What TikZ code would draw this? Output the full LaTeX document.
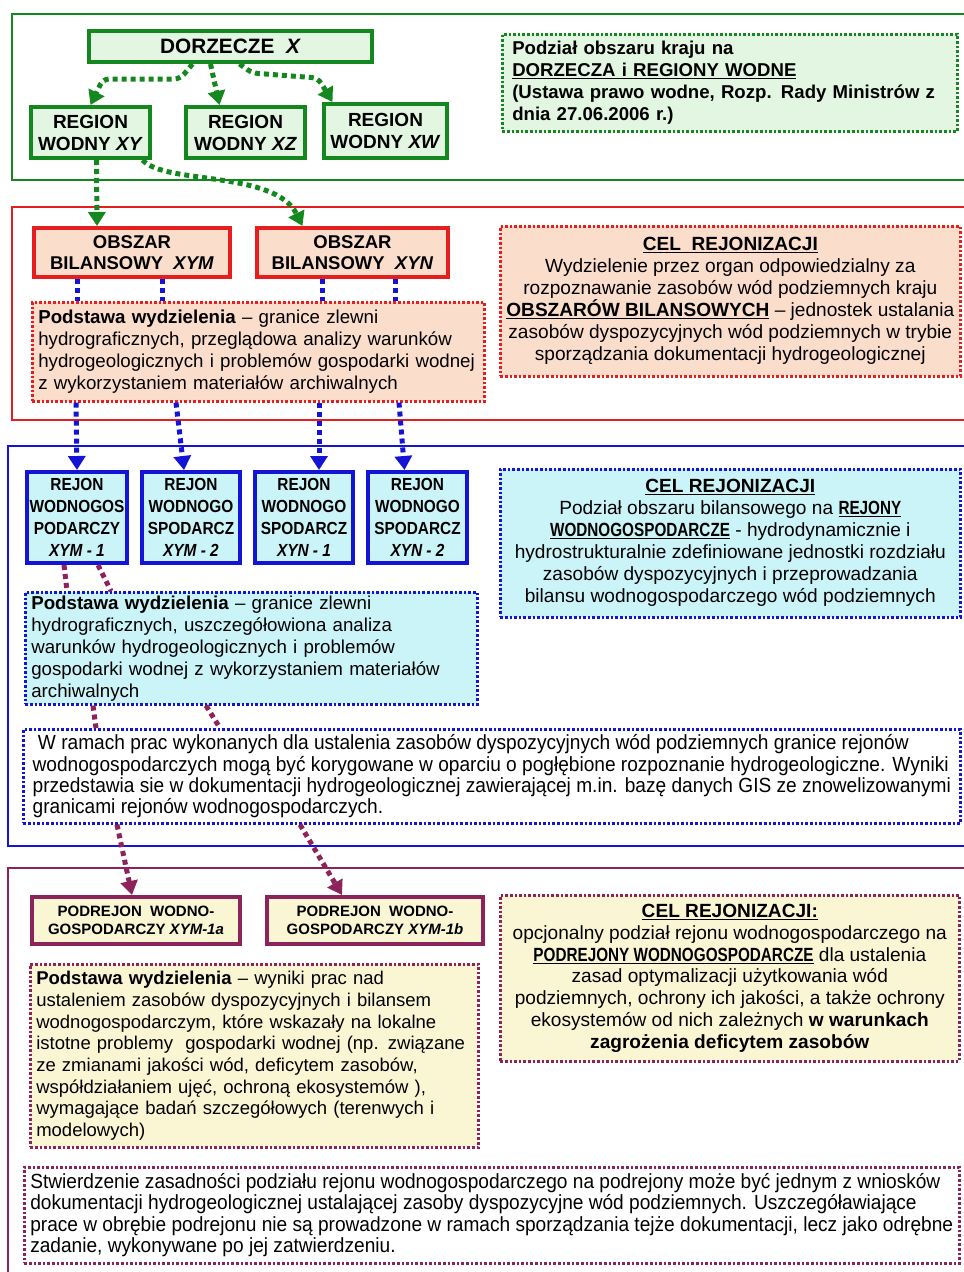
\documentclass[tikz,border=0pt]{standalone}
\usepackage{fontspec}
\setmainfont{Liberation Sans}
\newfontfamily\narrowfont[FakeStretch=0.932]{Liberation Sans}
\newfontfamily\condfont[FakeStretch=0.88]{Liberation Sans}
\newfontfamily\bcondfont[FakeStretch=0.8]{Liberation Sans}
\usetikzlibrary{arrows.meta}
\definecolor{gline}{RGB}{20,135,30}
\definecolor{gfill}{RGB}{226,246,226}
\definecolor{rline}{RGB}{230,30,30}
\definecolor{rfill}{RGB}{251,221,204}
\definecolor{bline}{RGB}{20,20,215}
\definecolor{bfill}{RGB}{202,244,248}
\definecolor{pline}{RGB}{140,35,90}
\definecolor{pfill}{RGB}{250,246,212}
\tikzset{
  tbox/.style={draw, line width=4pt, inner sep=1pt, align=center, anchor=north west},
  dbox/.style={draw, line width=2.6pt, dash pattern=on 2.6pt off 2pt, anchor=north west, inner xsep=6pt, inner ysep=2pt},
  framebox/.style={line width=2pt},
  conn/.style={line width=5pt, dash pattern=on 5pt off 4pt},
  tip/.style={-{Triangle[length=14pt,width=17pt]}},
  body/.style={font=\fontsize{18.7}{22}\selectfont},
  celbody/.style={font=\fontsize{19.1}{22}\selectfont},
}
\newcommand{\ulb}[1]{\underline{\bcondfont\bfseries #1}}
\begin{document}
\begin{tikzpicture}[x=1pt,y=-1pt]
\useasboundingbox (0,0) rectangle (964,1272);
% section frames
\draw[framebox, gline] (980,14) -- (12,14) -- (12,180) -- (980,180);
\draw[framebox, rline] (980,207) -- (12,207) -- (12,420) -- (980,420);
\draw[framebox, bline] (980,446) -- (8,446) -- (8,846) -- (980,846);
\draw[framebox, pline, line width=2.6pt] (980,868) -- (8,868) -- (8,1290);

% ---------- green ----------
\node[tbox, draw=gline, fill=gfill, minimum width=283pt, minimum height=31pt, font=\bfseries\fontsize{20.8}{22}\selectfont] (dor) at (87,29) {DORZECZE\ \ \textit{X}};
\node[tbox, draw=gline, fill=gfill, minimum width=119pt, minimum height=51pt, font=\bfseries\fontsize{19}{22}\selectfont] (xy) at (29,105) {REGION\\WODNY \textit{XY}};
\node[tbox, draw=gline, fill=gfill, minimum width=119pt, minimum height=51pt, font=\bfseries\fontsize{19}{22}\selectfont] (xz) at (184,105) {REGION\\WODNY \textit{XZ}};
\node[tbox, draw=gline, fill=gfill, minimum width=123pt, minimum height=54pt, font=\bfseries\fontsize{19}{22}\selectfont] (xw) at (322,102) {REGION\\WODNY \textit{XW}};
\node[dbox, draw=gline, fill=gfill, minimum width=455pt, minimum height=97pt, text width=435pt, align=left, inner xsep=10pt, font=\bfseries\fontsize{18.6}{22}\selectfont] (ginfo) at (501,33)
 {Podział obszaru kraju na\\\underline{DORZECZA i REGIONY WODNE}\\(Ustawa prawo wodne, Rozp. Rady Ministrów z\\dnia 27.06.2006 r.)};

% ---------- red ----------
\node[tbox, draw=rline, fill=rfill, minimum width=196pt, minimum height=49pt, font=\bfseries\fontsize{18.5}{21}\selectfont] (xym) at (32,226) {OBSZAR\\BILANSOWY\ \ \textit{XYM}};
\node[tbox, draw=rline, fill=rfill, minimum width=191pt, minimum height=49pt, font=\bfseries\fontsize{18.5}{21}\selectfont] (xyn) at (255,226) {OBSZAR\\BILANSOWY\ \ \textit{XYN}};
\node[dbox, draw=rline, fill=rfill, minimum width=452pt, minimum height=99pt, text width=440pt, align=left, body] (rpod) at (31,301)
 {\textbf{Podstawa wydzielenia} – granice zlewni\\hydrograficznych, przeglądowa analizy warunków\\hydrogeologicznych i problemów gospodarki wodnej\\z wykorzystaniem materiałów archiwalnych};
\node[dbox, draw=rline, fill=rfill, minimum width=460pt, minimum height=150pt, inner xsep=2pt, align=center, celbody] (rcel) at (499,225)
 {\underline{\textbf{CEL\ \ REJONIZACJI}}\\Wydzielenie przez organ odpowiedzialny za\\rozpoznawanie zasobów wód podziemnych kraju\\\underline{\textbf{OBSZARÓW BILANSOWYCH}} – jednostek ustalania\\zasobów dyspozycyjnych wód podziemnych w trybie\\sporządzania dokumentacji hydrogeologicznej};

% ---------- blue ----------
\node[tbox, draw=bline, fill=bfill, minimum width=100pt, minimum height=91pt, font=\condfont\bfseries\fontsize{17.5}{22}\selectfont] (rej1) at (25,470) {REJON\\WODNOGOS\\PODARCZY\\\textit{XYM - 1}};
\node[tbox, draw=bline, fill=bfill, minimum width=98pt, minimum height=91pt, font=\condfont\bfseries\fontsize{17.5}{22}\selectfont] (rej2) at (140,470) {REJON\\WODNOGO\\SPODARCZ\\\textit{XYM - 2}};
\node[tbox, draw=bline, fill=bfill, minimum width=98pt, minimum height=91pt, font=\condfont\bfseries\fontsize{17.5}{22}\selectfont] (rej3) at (253,470) {REJON\\WODNOGO\\SPODARCZ\\\textit{XYN - 1}};
\node[tbox, draw=bline, fill=bfill, minimum width=99pt, minimum height=91pt, font=\condfont\bfseries\fontsize{17.5}{22}\selectfont] (rej4) at (366,470) {REJON\\WODNOGO\\SPODARCZ\\\textit{XYN - 2}};
\node[dbox, draw=bline, fill=bfill, minimum width=451pt, minimum height=112pt, text width=440pt, align=left, body] (bpod) at (24,591)
 {\textbf{Podstawa wydzielenia} – granice zlewni\\hydrograficznych, uszczegółowiona analiza\\warunków hydrogeologicznych i problemów\\gospodarki wodnej z wykorzystaniem materiałów\\archiwalnych};
\node[dbox, draw=bline, fill=bfill, minimum width=460pt, minimum height=148pt, inner xsep=2pt, align=center, celbody] (bcel) at (499,468)
 {\underline{\textbf{CEL REJONIZACJI}}\\Podział obszaru bilansowego na \ulb{REJONY}\\\ulb{WODNOGOSPODARCZE} - hydrodynamicznie i\\hydrostrukturalnie zdefiniowane jednostki rozdziału\\zasobów dyspozycyjnych i przeprowadzania\\bilansu wodnogospodarczego wód podziemnych};
\node[dbox, draw=bline, fill=white, minimum width=937pt, minimum height=94pt, align=left, font=\narrowfont\fontsize{20.5}{21.3}\selectfont] (wide) at (22,728)
 {\ W ramach prac wykonanych dla ustalenia zasobów dyspozycyjnych wód podziemnych granice rejonów\\wodnogospodarczych mogą być korygowane w oparciu o pogłębione rozpoznanie hydrogeologiczne. Wyniki\\przedstawia sie w dokumentacji hydrogeologicznej zawierającej m.in. bazę danych GIS ze znowelizowanymi\\granicami rejonów wodnogospodarczych.};

% ---------- purple ----------
\node[tbox, draw=pline, fill=pfill, minimum width=208pt, minimum height=47pt, font=\bfseries\fontsize{15}{18}\selectfont] (poda) at (30,895) {PODREJON\ \ WODNO-\\GOSPODARCZY \textit{XYM-1a}};
\node[tbox, draw=pline, fill=pfill, minimum width=216pt, minimum height=47pt, font=\bfseries\fontsize{15}{18}\selectfont] (podb) at (265,895) {PODREJON\ \ WODNO-\\GOSPODARCZY \textit{XYM-1b}};
\node[dbox, draw=pline, fill=pfill, minimum width=446pt, minimum height=183pt, text width=436pt, align=left, font=\fontsize{18.5}{21.7}\selectfont] (ppod) at (29,963)
 {\textbf{Podstawa wydzielenia} – wyniki prac nad\\ustaleniem zasobów dyspozycyjnych i bilansem\\wodnogospodarczym, które wskazały na lokalne\\istotne problemy\ \ gospodarki wodnej (np. związane\\ze zmianami jakości wód, deficytem zasobów,\\współdziałaniem ujęć, ochroną ekosystemów ),\\wymagające badań szczegółowych (terenwych i\\modelowych)};
\node[dbox, draw=pline, fill=pfill, minimum width=459pt, minimum height=166pt, inner xsep=2pt, align=center, font=\fontsize{19.1}{21.8}\selectfont] (pcel) at (499,894)
 {\underline{\textbf{CEL REJONIZACJI:}}\\opcjonalny podział rejonu wodnogospodarczego na\\\ulb{PODREJONY WODNOGOSPODARCZE} dla ustalenia\\zasad optymalizacji użytkowania wód\\podziemnych, ochrony ich jakości, a także ochrony\\ekosystemów od nich zależnych \textbf{w warunkach}\\\textbf{zagrożenia deficytem zasobów}};
\node[dbox, draw=pline, fill=white, minimum width=933pt, minimum height=96pt, align=left, font=\narrowfont\fontsize{20.5}{21.5}\selectfont] (stw) at (23,1166)
 {Stwierdzenie zasadności podziału rejonu wodnogospodarczego na podrejony może być jednym z wniosków\\dokumentacji hydrogeologicznej ustalającej zasoby dyspozycyjne wód podziemnych. Uszczegóławiające\\prace w obrębie podrejonu nie są prowadzone w ramach sporządzania tejże dokumentacji, lecz jako odrębne\\zadanie, wykonywane po jej zatwierdzeniu.};

% ---------- connectors: green ----------
\draw[conn, gline, tip, rounded corners=6pt] ([xshift=-38pt]dor.south) -- (180,79) -- (103,79) -- (xy.north);
\draw[conn, gline, tip] ([xshift=-20pt]dor.south) -- ([xshift=-26pt]xz.north);
\draw[conn, gline, tip, rounded corners=6pt] ([xshift=9pt]dor.south) -- (252,73) -- (318,78) -- ([xshift=-53pt]xw.north);
\draw[conn, gline, tip] ([xshift=6pt]xy.south) -- ([xshift=-35pt]xym.north);
\draw[conn, gline, tip] ([xshift=52pt]xy.south) .. controls (165,185) and (275,170) .. ([xshift=-50pt]xyn.north);

% ---------- connectors: blue ----------
\draw[conn, bline] ([xshift=-55pt]xym.south) -- ([xshift=-55pt]xym.south |- rpod.north);
\draw[conn, bline] ([xshift=30pt]xym.south) -- ([xshift=30pt]xym.south |- rpod.north);
\draw[conn, bline] ([xshift=-30pt]xyn.south) -- ([xshift=-30pt]xyn.south |- rpod.north);
\draw[conn, bline] ([xshift=43pt]xyn.south) -- ([xshift=43pt]xyn.south |- rpod.north);
\draw[conn, bline, tip] ([xshift=45pt]rpod.south west) -- (rej1.north);
\draw[conn, bline, tip] ([xshift=145pt]rpod.south west) -- ([xshift=-7pt]rej2.north);
\draw[conn, bline, tip] ([xshift=288pt]rpod.south west) -- ([xshift=15pt]rej3.north);
\draw[conn, bline, tip] ([xshift=368pt]rpod.south west) -- ([xshift=-13pt]rej4.north);

% ---------- connectors: purple ----------
\draw[conn, pline] ([xshift=-13pt]rej1.south) -- ([xshift=43pt]bpod.north west);
\draw[conn, pline] ([xshift=21pt]rej1.south) -- ([xshift=87pt]bpod.north west);
\draw[conn, pline] ([xshift=69pt]bpod.south west) -- ([xshift=74pt]wide.north west);
\draw[conn, pline] ([xshift=182pt]bpod.south west) -- ([xshift=198pt]wide.north west);
\draw[conn, pline, tip] ([xshift=95pt]wide.south west) -- ([xshift=-4pt]poda.north);
\draw[conn, pline, tip] ([xshift=278pt]wide.south west) -- ([xshift=-33pt]podb.north);
\end{tikzpicture}
\end{document}
